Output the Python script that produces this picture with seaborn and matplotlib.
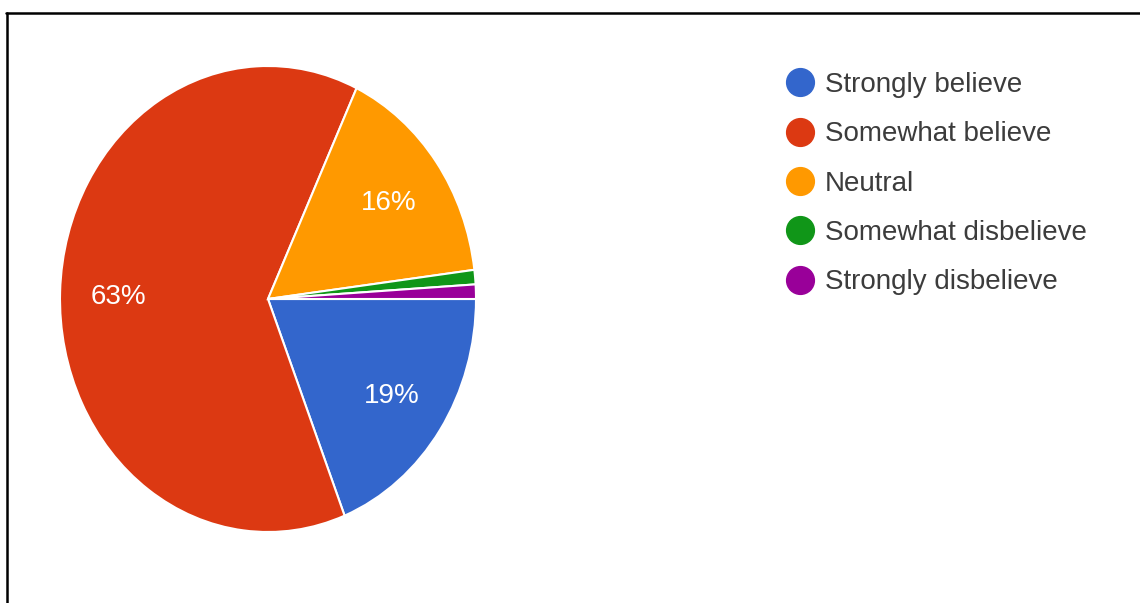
import matplotlib
matplotlib.use("Agg")
import matplotlib.pyplot as plt
from matplotlib.lines import Line2D
import seaborn as sns

categories = ["Strongly believe", "Somewhat believe", "Neutral",
              "Somewhat disbelieve", "Strongly disbelieve"]
shares = [19, 63, 16, 1, 1]
colors = ["#3366cc", "#dc3912", "#ff9900", "#109618", "#990099"]

sns.set_theme(style="white")
plt.rcParams["font.family"] = ["Liberation Sans", "DejaVu Sans"]

fig = plt.figure(figsize=(11.4, 6.03), dpi=100)
fig.patch.set_facecolor("white")

# pie axes stretched slightly taller than wide
ax = fig.add_axes([60 / 1140, (603 - 532) / 603, 416 / 1140, 466 / 603])

def pct_label(p):
    return f"{p:.0f}%" if p >= 5 else ""

wedges, _, autotexts = ax.pie(
    shares, colors=colors, startangle=0, counterclock=False,
    autopct=pct_label, pctdistance=0.72,
    wedgeprops=dict(edgecolor="white", linewidth=1.5),
    textprops=dict(color="white", fontsize=20),
)
for t in autotexts:
    t.set_verticalalignment("center_baseline")
ax.set_aspect("auto")
ax.set_xlim(-1, 1)
ax.set_ylim(-1, 1)
ax.axis("off")

handles = [Line2D([0], [0], marker="o", linestyle="none", markersize=20,
                  markerfacecolor=c, markeredgecolor=c) for c in colors]
fig.legend(handles, categories, loc="upper left",
           bbox_to_anchor=(786 / 1140, 1 - 72 / 603),
           frameon=False, fontsize=20, labelcolor="#3c3c3c",
           handlelength=1.0, handletextpad=0.4, labelspacing=0.84,
           borderpad=0, borderaxespad=0)

# thin black frame along the top and left
fig.add_artist(Line2D([6 / 1140, 1.0], [1 - 12.5 / 603, 1 - 12.5 / 603],
                      color="black", linewidth=1.8, transform=fig.transFigure))
fig.add_artist(Line2D([7 / 1140, 7 / 1140], [0, 1 - 12.5 / 603],
                      color="black", linewidth=1.8, transform=fig.transFigure))

fig.savefig("out.png", dpi=100, facecolor="white")
